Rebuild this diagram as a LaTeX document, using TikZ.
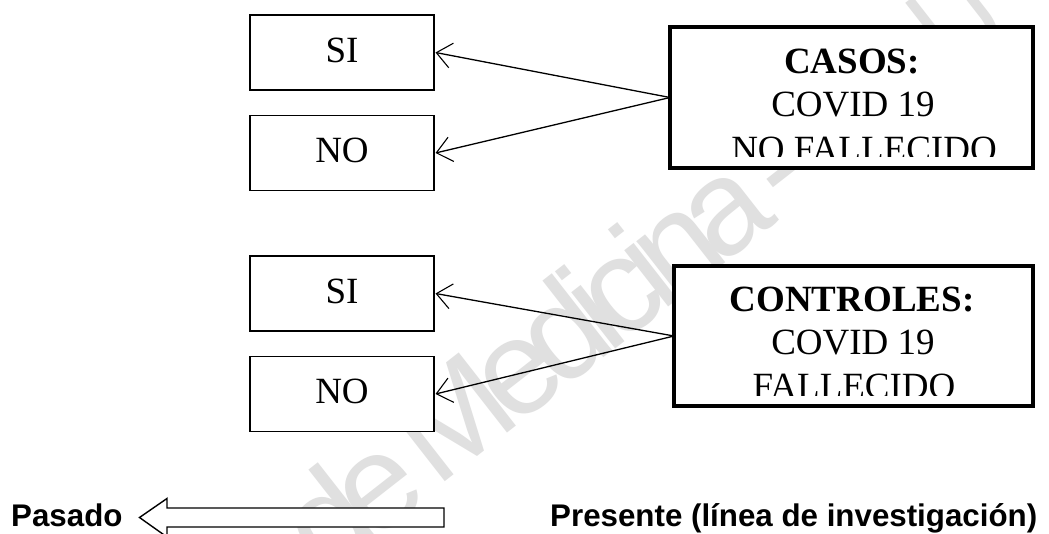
\documentclass[tikz,border=0pt]{standalone}
\usepackage{fontspec}
\setmainfont{Liberation Serif}
\newfontfamily\arialfont{Liberation Sans}
\newfontfamily\wmfont[LetterSpace=-11]{Liberation Sans}
\usetikzlibrary{arrows.meta}
\tikzset{
  x=1pt,y=-1pt,
  thinbox/.style={draw=black,fill=white,line width=1.4pt,minimum width=184pt,minimum height=75pt,inner sep=0pt,outer sep=0pt,text height=24.5pt,text depth=5pt,font=\fontsize{37}{37}\selectfont},
  thickbox/.style={draw=black,fill=white,line width=3.6pt,inner sep=0pt,outer sep=0pt},
  boxtext/.style={anchor=base,inner sep=0pt,font=\fontsize{37}{37}\selectfont},
  boldtext/.style={boxtext,font=\fontsize{37}{37}\selectfont\bfseries},
  sanstext/.style={anchor=base west,inner sep=0pt,font=\arialfont\bfseries\fontsize{31.3}{31.3}\selectfont},
  link/.style={line width=1.3pt,{Straight Barb[length=15pt,width=25pt,line width=1.1pt]}-},
  wmark/.style={inner sep=0pt,text=black!12,font=\wmfont\fontsize{135}{135}\selectfont,rotate=38}
}
\begin{document}
\begin{tikzpicture}
\useasboundingbox (0,0) rectangle (1049,534);
\fill[white] (0,0) rectangle (1049,534);
% watermark
\begin{scope}
\clip (0,0) rectangle (1049,534);
\node[wmark,anchor=base west] (wm1) at (436,489) {Medicina};
\node[wmark,anchor=base west] (wm3) at (787,216) {-};
\node[wmark,anchor=base west,xscale=.78] (wm4) at (956,82) {U};
\node[wmark,anchor=base east] (wm2) at (433,497) {de};
\end{scope}
% left boxes
\node[thinbox] (si1) at (342,52.5) {SI};
\node[thinbox] (no1) at (342,153) {NO};
\node[thinbox] (si2) at (342,293.5) {SI};
\node[thinbox] (no2) at (342,394) {NO};
% right boxes
\node[thickbox,minimum width=363pt,minimum height=141pt] (casos) at (851.5,97.5) {};
\node[thickbox,minimum width=359pt,minimum height=140pt] (ctrl) at (853.5,336) {};
% right box text
\node[boldtext] (t1) at (852,74) {CASOS:};
\node[boxtext] (t2) at (853,117) {COVID 19};
\begin{scope}
\clip (672,120) rectangle (1032,157);
\node[boxtext] (t3) at (864,161.5) {NO FALLECIDO};
\end{scope}
\node[boldtext] (t4) at (852,312) {CONTROLES:};
\node[boxtext] (t5) at (853,355) {COVID 19};
\begin{scope}
\clip (676,360) rectangle (1030,395);
\node[boxtext] (t6) at (854,398) {FALLECIDO};
\end{scope}
% connectors
\draw[link] (si1.east) ++(1.5,0) coordinate (a1) -- (casos.west);
\draw[link] (no1.east) ++(1.5,0) coordinate (a2) -- (casos.west);
\draw[link] (si2.east) ++(1.5,0) coordinate (a3) -- (ctrl.west);
\draw[link] (no2.east) ++(1.5,0) coordinate (a4) -- (ctrl.west);
% block arrow
\draw[line width=1.4pt,fill=white,line join=miter] (139.5,517.5) -- (167,498.5) -- (167,508) -- (444,508) -- (444,527) -- (167,527) -- (167,537) -- cycle;
% bottom labels
\node[sanstext] (past) at (11,526.5) {Pasado};
\node[sanstext] (pres) at (550,526.5) {Presente (línea de investigación)};
\end{tikzpicture}
\end{document}
